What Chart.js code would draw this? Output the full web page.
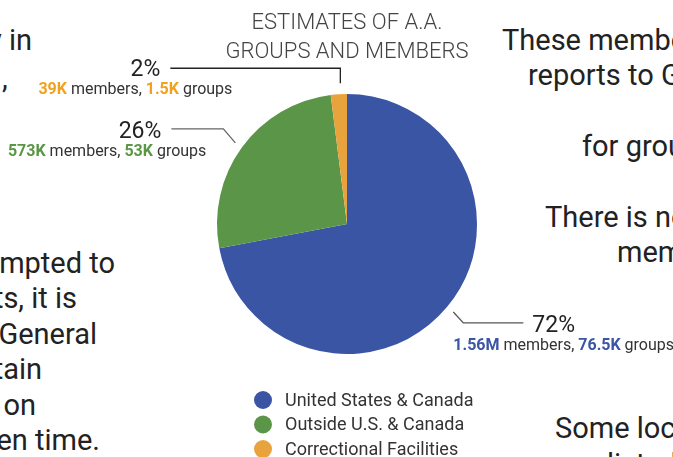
<!DOCTYPE html>
<html>
<head>
<meta charset="utf-8">
<script src="https://cdn.jsdelivr.net/npm/chart.js@4"></script>
<style>
  html, body { margin:0; padding:0; background:#fff; }
  body { width:673px; height:457px; overflow:hidden; position:relative; font-family:Roboto, "Noto Sans", sans-serif; }
  #wrap { position:absolute; left:0; top:0; width:673px; height:457px; }
  .p { position:absolute; font-size:29px; line-height:29px; color:#222; white-space:nowrap; }
  .r { text-align:right; }
</style>
</head>
<body>
<!-- surrounding article text (clipped fragments) -->
<div class="p r" style="right:641px;top:26px">y in</div>
<div class="p" style="left:2px;top:64px">,</div>
<div class="p r" style="right:558px;top:249px">mpted to</div>
<div class="p r" style="right:596px;top:284px">ts, it is</div>
<div class="p r" style="right:576px;top:320px">General</div>
<div class="p r" style="right:631px;top:355px">tain</div>
<div class="p r" style="right:637px;top:391px">on</div>
<div class="p r" style="right:573px;top:426px">en time.</div>
<div class="p" style="left:502px;top:26px">These members</div>
<div class="p" style="left:528px;top:61px">reports to G</div>
<div class="p" style="left:582px;top:132px">for groups</div>
<div class="p" style="left:545px;top:203px">There is no</div>
<div class="p" style="left:617px;top:238px">members</div>
<div class="p" style="left:555px;top:414px">Some local</div>
<div class="p" style="left:607px;top:450px">listed</div>

<div id="wrap"><canvas id="c"></canvas></div>
<script>
const titleLines = ['ESTIMATES OF A.A.', 'GROUPS AND MEMBERS'];
const categories = ['United States & Canada', 'Outside U.S. & Canada', 'Correctional Facilities'];
const shares = [72, 26, 2];
const members = ['1.56M', '573K', '39K'];
const groups = ['76.5K', '53K', '1.5K'];

const sliceColors = ['#3b55a5', '#5b9547', '#e8a33c'];
const labelColors = ['#3b55a5', '#5a9745', '#f2a11e'];
const FONT = 'Roboto, "Noto Sans", sans-serif';

// leader-line layout per slice (relative to the slice's outer mid-point)
const leaderLayout = [
  { pts: a => [[a.x, a.y], [a.x + 10, a.y + 11], [a.x + 70, a.y + 11]], pctAlign: 'left', pctDx: 9, pctDy: 9, detAlign: 'left', detDx: -70, detDy: 27 },
  { pts: a => [[a.x, a.y], [a.x - 12, a.y - 14], [a.x - 64, a.y - 14]], pctAlign: 'right', pctDx: -10, pctDy: 9, detAlign: 'right', detDx: 35, detDy: 27 },
  { pts: a => [[a.x + 2, a.y - 3], [a.x + 2, a.y - 18], [a.x - 168, a.y - 18]], pctAlign: 'right', pctDx: -10, pctDy: 8, detAlign: 'right', detDx: 62, detDy: 26 }
];
const leaderColors = ['#555', '#666', '#222'];

const annotate = {
  id: 'annotate',
  afterDraw(chart) {
    const ctx = chart.ctx;
    const meta = chart.getDatasetMeta(0);
    const cx = meta.data[0].x;
    ctx.save();
    // title
    ctx.fillStyle = '#444';
    ctx.font = '300 22px ' + FONT;
    ctx.textAlign = 'center';
    ctx.textBaseline = 'alphabetic';
    ctx.fillText(titleLines[0], cx, 29);
    ctx.fillText(titleLines[1], cx, 58);

    // leaders and labels
    meta.data.forEach((arc, i) => {
      const p = arc.getProps(['x', 'y', 'startAngle', 'endAngle', 'outerRadius'], true);
      const mid = (p.startAngle + p.endAngle) / 2;
      const r = p.outerRadius + 8;
      const a = { x: p.x + Math.cos(mid) * r, y: p.y + Math.sin(mid) * r };
      const L = leaderLayout[i];
      const pts = L.pts(a);
      ctx.strokeStyle = leaderColors[i];
      ctx.lineWidth = 1.3;
      ctx.beginPath();
      pts.forEach((q, k) => k ? ctx.lineTo(q[0], q[1]) : ctx.moveTo(q[0], q[1]));
      ctx.stroke();
      const end = pts[pts.length - 1];
      // percent
      ctx.fillStyle = '#222';
      ctx.font = '400 23px ' + FONT;
      ctx.textAlign = L.pctAlign;
      ctx.fillText(shares[i] + '%', end[0] + L.pctDx, end[1] + L.pctDy);
      // detail line
      const segs = [
        { t: members[i], f: '700 16px ' + FONT, c: labelColors[i] },
        { t: ' members, ', f: '400 16px ' + FONT, c: '#333' },
        { t: groups[i], f: '700 16px ' + FONT, c: labelColors[i] },
        { t: ' groups', f: '400 16px ' + FONT, c: '#333' }
      ];
      let total = 0;
      segs.forEach(s => { ctx.font = s.f; s.w = ctx.measureText(s.t).width; total += s.w; });
      let x = end[0] + L.detDx;
      if (L.detAlign === 'right') x -= total;
      ctx.textAlign = 'left';
      segs.forEach(s => { ctx.font = s.f; ctx.fillStyle = s.c; ctx.fillText(s.t, x, end[1] + L.detDy); x += s.w; });
    });

    // legend
    ctx.textBaseline = 'middle';
    ctx.textAlign = 'left';
    ctx.font = '400 18px ' + FONT;
    categories.forEach((c, i) => {
      const y = 400 + i * 24.5;
      ctx.fillStyle = sliceColors[i];
      ctx.beginPath();
      ctx.arc(263, y, 9, 0, Math.PI * 2);
      ctx.fill();
      ctx.fillStyle = '#333';
      ctx.fillText(c, 285, y + 1);
    });
    ctx.restore();
  }
};

new Chart(document.getElementById('c'), {
  type: 'pie',
  data: {
    labels: categories,
    datasets: [{ data: shares, backgroundColor: sliceColors, borderWidth: 0 }]
  },
  options: {
    responsive: true,
    maintainAspectRatio: false,
    animation: false,
    layout: { padding: { left: 217, right: 196, top: 94, bottom: 103 } },
    plugins: { legend: { display: false }, tooltip: { enabled: false }, title: { display: false } }
  },
  plugins: [annotate]
});
</script>
</body>
</html>
